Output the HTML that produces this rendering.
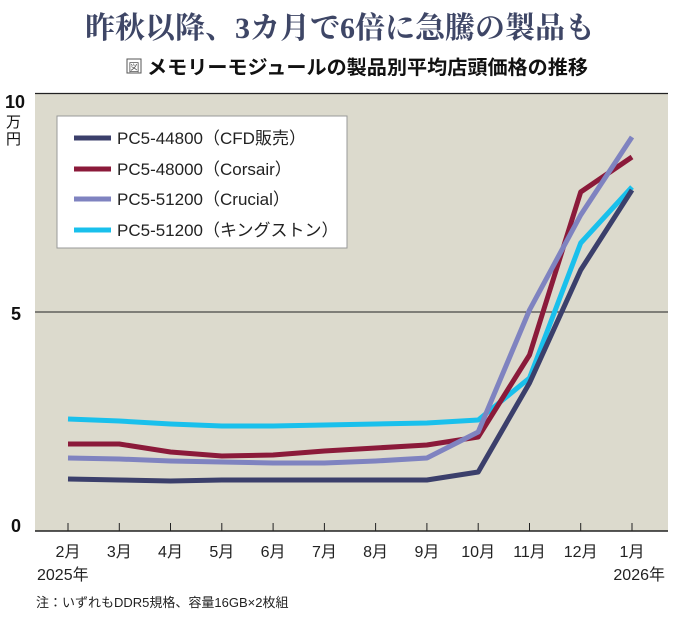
<!DOCTYPE html>
<html><head><meta charset="utf-8"><style>
body{margin:0;background:#fff;width:680px;height:614px;overflow:hidden}
svg text{font-family:"Liberation Sans","Noto Sans CJK JP",sans-serif}
</style></head><body>
<svg width="680" height="614" viewBox="0 0 680 614">
<text x="340" y="38" text-anchor="middle" font-size="30" font-weight="bold" fill="#3e4666" style="font-family:'Liberation Serif','Noto Serif CJK SC',serif">昨秋以降、3カ月で6倍に急騰の製品も</text>
<text x="147" y="74" font-size="19.5" font-weight="bold" fill="#111" textLength="441" lengthAdjust="spacingAndGlyphs">メモリーモジュールの製品別平均店頭価格の推移</text>
<rect x="127" y="59" width="14" height="14" fill="#fff" stroke="#555" stroke-width="1"/>
<text x="134" y="71" text-anchor="middle" font-size="11" fill="#555">図</text>
<rect x="35" y="93" width="633" height="438" fill="#dcdacd"/>
<line x1="35" y1="93.5" x2="668" y2="93.5" stroke="#222" stroke-width="1.2"/>
<line x1="35" y1="312" x2="668" y2="312" stroke="#222" stroke-width="1"/>
<line x1="35" y1="531" x2="668" y2="531" stroke="#222" stroke-width="1.5"/>
<g stroke="#222" stroke-width="1">
<line x1="68" y1="523" x2="68" y2="531"/><line x1="119.3" y1="523" x2="119.3" y2="531"/><line x1="170.5" y1="523" x2="170.5" y2="531"/><line x1="221.8" y1="523" x2="221.8" y2="531"/><line x1="273.1" y1="523" x2="273.1" y2="531"/><line x1="324.4" y1="523" x2="324.4" y2="531"/><line x1="375.6" y1="523" x2="375.6" y2="531"/><line x1="426.9" y1="523" x2="426.9" y2="531"/><line x1="478.2" y1="523" x2="478.2" y2="531"/><line x1="529.5" y1="523" x2="529.5" y2="531"/><line x1="580.7" y1="523" x2="580.7" y2="531"/><line x1="632" y1="523" x2="632" y2="531"/>
</g>
<g font-size="18" fill="#111" font-weight="bold"><text x="5" y="108">10</text><text x="11" y="320">5</text><text x="11" y="532">0</text></g>
<text x="6" y="127" font-size="15" fill="#111">万</text><text x="6" y="144" font-size="15" fill="#111">円</text>
<g font-size="16" fill="#222" text-anchor="middle">
<text x="68" y="557">2月</text><text x="119.3" y="557">3月</text><text x="170.5" y="557">4月</text><text x="221.8" y="557">5月</text><text x="273.1" y="557">6月</text><text x="324.4" y="557">7月</text><text x="375.6" y="557">8月</text><text x="426.9" y="557">9月</text><text x="478.2" y="557">10月</text><text x="529.5" y="557">11月</text><text x="580.7" y="557">12月</text><text x="632" y="557">1月</text>
</g>
<text x="37" y="580" font-size="16" fill="#222">2025年</text>
<text x="665" y="580" font-size="16" fill="#222" text-anchor="end">2026年</text>
<text x="36" y="607" font-size="13" fill="#222">注：いずれもDDR5規格、容量16GB×2枚組</text>
<g fill="none" stroke-width="5" stroke-linejoin="round">
<polyline stroke="#19c0ec" points="68,419 119.3,421 170.5,424 221.8,426 273.1,426 324.4,425 375.6,424 426.9,423 478.2,420 529.5,378 580.7,243 632,187"/>
<polyline stroke="#3b3f6b" points="68,479 119.3,480 170.5,481 221.8,480 273.1,480 324.4,480 375.6,480 426.9,480 478.2,472 529.5,383 580.7,270 632,190"/>
<polyline stroke="#8b1a3a" points="68,444 119.3,444 170.5,452 221.8,456 273.1,455 324.4,451 375.6,448 426.9,445 478.2,437 529.5,355 580.7,192 632,157"/>
<polyline stroke="#7f83c0" points="68,458 119.3,459 170.5,461 221.8,462 273.1,463 324.4,463 375.6,461 426.9,458 478.2,432 529.5,310 580.7,215 632,137"/>
</g>
<rect x="57" y="116" width="290" height="132" fill="#fff" stroke="#999" stroke-width="1"/>
<g stroke-width="5"><line x1="74" y1="138" x2="111" y2="138" stroke="#3b3f6b"/><line x1="74" y1="169" x2="111" y2="169" stroke="#8b1a3a"/><line x1="74" y1="199" x2="111" y2="199" stroke="#7f83c0"/><line x1="74" y1="230" x2="111" y2="230" stroke="#19c0ec"/></g>
<g font-size="17" fill="#222"><text x="117" y="144">PC5-44800（CFD販売）</text><text x="117" y="175">PC5-48000（Corsair）</text><text x="117" y="205">PC5-51200（Crucial）</text><text x="117" y="236">PC5-51200（キングストン）</text></g>
</svg>
</body></html>
